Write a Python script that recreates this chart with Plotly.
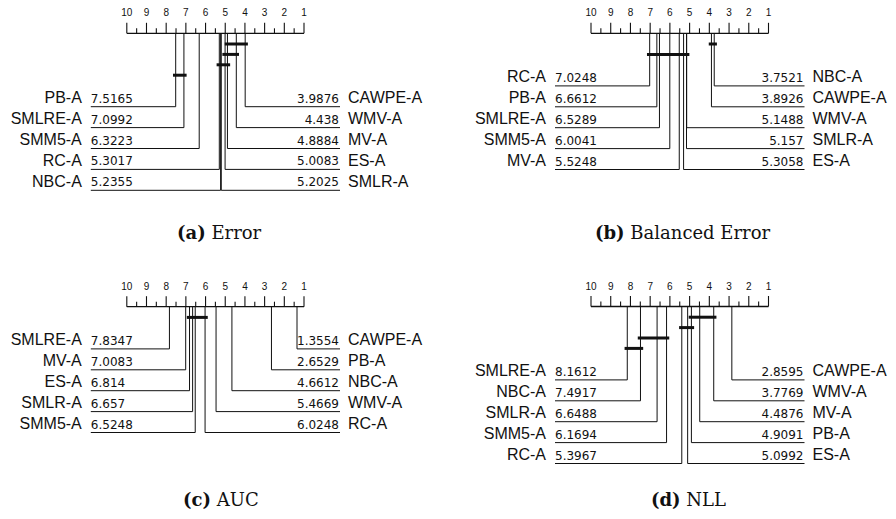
import plotly.graph_objects as go

# ---------------- data ----------------
error_methods = ["PB-A", "SMLRE-A", "SMM5-A", "RC-A", "NBC-A",
                 "CAWPE-A", "WMV-A", "MV-A", "ES-A", "SMLR-A"]
error_ranks = [7.5165, 7.0992, 6.3223, 5.3017, 5.2355,
               3.9876, 4.438, 4.8884, 5.0083, 5.2025]
error_cliques = [("CAWPE-A", "MV-A"), ("WMV-A", "ES-A"),
                 ("MV-A", "RC-A"), ("SMLRE-A", "PB-A")]

balerr_methods = ["RC-A", "PB-A", "SMLRE-A", "SMM5-A", "MV-A",
                  "NBC-A", "CAWPE-A", "WMV-A", "SMLR-A", "ES-A"]
balerr_ranks = [7.0248, 6.6612, 6.5289, 6.0041, 5.5248,
                3.7521, 3.8926, 5.1488, 5.157, 5.3058]
balerr_cliques = [("NBC-A", "CAWPE-A"), ("WMV-A", "RC-A")]

auc_methods = ["SMLRE-A", "MV-A", "ES-A", "SMLR-A", "SMM5-A",
               "CAWPE-A", "PB-A", "NBC-A", "WMV-A", "RC-A"]
auc_ranks = [7.8347, 7.0083, 6.814, 6.657, 6.5248,
             1.3554, 2.6529, 4.6612, 5.4669, 6.0248]
auc_cliques = [("RC-A", "ES-A")]

nll_methods = ["SMLRE-A", "NBC-A", "SMLR-A", "SMM5-A", "RC-A",
               "CAWPE-A", "WMV-A", "MV-A", "PB-A", "ES-A"]
nll_ranks = [8.1612, 7.4917, 6.6488, 6.1694, 5.3967,
             2.8595, 3.7769, 4.4876, 4.9091, 5.0992]
nll_cliques = [("WMV-A", "PB-A"), ("PB-A", "RC-A"),
               ("SMM5-A", "NBC-A"), ("NBC-A", "SMLRE-A")]

tick_labels = ["10", "9", "8", "7", "6", "5", "4", "3", "2", "1"]
tick_values = [10, 9, 8, 7, 6, 5, 4, 3, 2, 1]

captions = ["<b>(a)</b> Error", "<b>(b)</b> Balanced Error",
            "<b>(c)</b> AUC", "<b>(d)</b> NLL"]

# ---------------- layout constants (pixels of the 896x519 view) ----------------
VIEW_W, VIEW_H = 896, 519
OFF = 8  # default page body margin
W, H = VIEW_W - OFF, VIEW_H - OFF

panels = [
    dict(methods=error_methods, ranks=error_ranks, cliques=error_cliques,
         dom=(0, 448, 0, 259), p10=126.8, p1=304.0, py=33.3, cap=(219, 232)),
    dict(methods=balerr_methods, ranks=balerr_ranks, cliques=balerr_cliques,
         dom=(448, 896, 0, 259), p10=591.0, p1=768.5, py=33.3, cap=(682.7, 232)),
    dict(methods=auc_methods, ranks=auc_ranks, cliques=auc_cliques,
         dom=(0, 448, 260, 519), p10=126.8, p1=304.0, py=306.7, cap=(221, 499)),
    dict(methods=nll_methods, ranks=nll_ranks, cliques=nll_cliques,
         dom=(448, 896, 260, 519), p10=591.0, p1=768.5, py=306.5, cap=(688, 499)),
]

LINE = "#111111"
ext_px = 2.7
bar0 = 10.7
bar_gap = 10.4
rows_after_bars = 31.5
row_gap = 20.9
line_out = 36.0


def px_x(v):
    return (v - OFF) / W


def px_y(v):
    return 1 - (v - OFF) / H


fig = go.Figure()
layout_axes = {}

for i, P in enumerate(panels):
    n = i + 1
    xa = "x" if n == 1 else f"x{n}"
    ya = "y" if n == 1 else f"y{n}"
    xk = "xaxis" if n == 1 else f"xaxis{n}"
    yk = "yaxis" if n == 1 else f"yaxis{n}"
    k = (P["p1"] - P["p10"]) / 9.0
    x0, x1, y0, y1 = P["dom"]
    x0c, x1c = max(x0, OFF), min(x1, VIEW_W)
    y0c, y1c = max(y0, OFF), min(y1, VIEW_H)
    xr = [10 + (P["p10"] - x0c) / k, 1 - (x1c - P["p1"]) / k]
    yr = [y1c - P["py"], y0c - P["py"]]
    layout_axes[xk] = dict(domain=[px_x(x0c), px_x(x1c)], range=xr, visible=False,
                           anchor=ya, fixedrange=True)
    layout_axes[yk] = dict(domain=[px_y(y1c), px_y(y0c)], range=yr, visible=False,
                           anchor=xa, fixedrange=True)

    common = dict(xaxis=xa, yaxis=ya, showlegend=False, hoverinfo="skip", cliponaxis=False)

    # axis line
    fig.add_trace(go.Scatter(x=[tick_values[0], tick_values[-1]], y=[0, 0], mode="lines",
                             line=dict(color=LINE, width=1.3), **common))
    # ticks
    tx, ty = [], []
    for v in tick_values:
        tx += [v, v, None]
        ty += [0, -10.5, None]
    for v in tick_values[:-1]:
        tx += [v - 0.5, v - 0.5, None]
        ty += [0, -5, None]
    fig.add_trace(go.Scatter(x=tx, y=ty, mode="lines",
                             line=dict(color=LINE, width=1.1), **common))
    fig.add_trace(go.Scatter(x=tick_values, y=[-19.5] * len(tick_values), mode="text",
                             text=tick_labels, textposition="middle center",
                             textfont=dict(family="Liberation Sans", size=10, color="#111"),
                             **common))

    rk = dict(zip(P["methods"], P["ranks"]))
    # clique bars
    cl = sorted(P["cliques"], key=lambda c: min(rk[c[0]], rk[c[1]]))
    bx, by = [], []
    ext = ext_px / k
    for j, (a, b) in enumerate(cl):
        lo, hi = min(rk[a], rk[b]), max(rk[a], rk[b])
        yb = bar0 + j * bar_gap
        bx += [hi + ext, lo - ext, None]
        by += [yb, yb, None]
    fig.add_trace(go.Scatter(x=bx, y=by, mode="lines",
                             line=dict(color=LINE, width=3), **common))

    # connectors
    order = sorted(P["methods"], key=lambda m: -rk[m])
    half = len(order) // 2
    left = order[:half]
    right = order[half:][::-1]
    first_row = bar0 + (len(cl) - 1) * bar_gap + rows_after_bars
    lx_end = 10 + line_out / k
    rx_end = 1 - line_out / k
    cx, cy = [], []
    for j, m in enumerate(left):
        yrow = first_row + j * row_gap
        cx += [rk[m], rk[m], lx_end, None]
        cy += [0, yrow, yrow, None]
    for j, m in enumerate(right):
        yrow = first_row + j * row_gap
        cx += [rk[m], rk[m], rx_end, None]
        cy += [0, yrow, yrow, None]
    fig.add_trace(go.Scatter(x=cx, y=cy, mode="lines",
                             line=dict(color=LINE, width=1), **common))

    # labels
    ly = [first_row + j * row_gap - 7.5 for j in range(len(left))]
    ry = [first_row + j * row_gap - 7.5 for j in range(len(right))]
    name_font = dict(family="Liberation Sans", size=16, color="#111")
    val_font = dict(family="DejaVu Sans", size=12, color="#111")
    fig.add_trace(go.Scatter(x=[10 + 45 / k] * len(left), y=ly, mode="text",
                             text=left, textposition="middle left",
                             textfont=name_font, **common))
    fig.add_trace(go.Scatter(x=[lx_end] * len(left), y=[v + 0.5 for v in ly], mode="text",
                             text=[str(rk[m]) for m in left], textposition="middle right",
                             textfont=val_font, **common))
    fig.add_trace(go.Scatter(x=[1 - 35 / k] * len(right), y=[v + 0.5 for v in ry], mode="text",
                             text=[str(rk[m]) for m in right], textposition="middle left",
                             textfont=val_font, **common))
    fig.add_trace(go.Scatter(x=[1 - 44 / k] * len(right), y=ry, mode="text",
                             text=right, textposition="middle right",
                             textfont=name_font, **common))

annotations = []
for P, cap in zip(panels, captions):
    annotations.append(dict(x=px_x(P["cap"][0]), y=px_y(P["cap"][1]), xref="paper", yref="paper",
                            text=cap, showarrow=False, xanchor="center", yanchor="middle",
                            font=dict(family="DejaVu Serif", size=18, color="#111")))

fig.update_layout(width=W, height=H, margin=dict(l=0, r=0, t=0, b=0),
                  paper_bgcolor="white", plot_bgcolor="white",
                  annotations=annotations, **layout_axes)

fig.write_html("out.html")
